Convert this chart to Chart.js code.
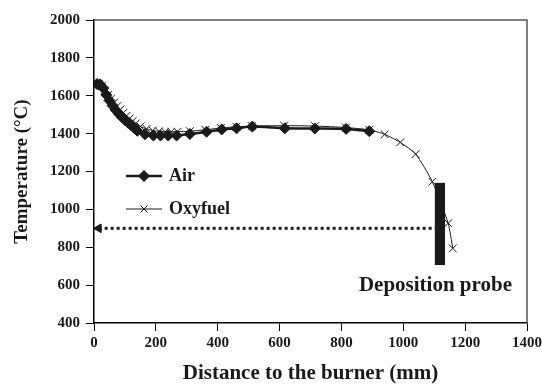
<!DOCTYPE html>
<html>
<head>
<meta charset="utf-8">
<script src="https://cdn.jsdelivr.net/npm/chart.js@4"></script>
<style>
  body { margin: 0; background: #fff; }
  #wrap { width: 542px; height: 384px; }
</style>
</head>
<body>
<div id="wrap"><canvas id="chart"></canvas></div>
<script>
// distance to burner (mm) and temperature (°C)
const airX = [10, 20, 30, 40, 50, 60, 70, 80, 90, 100, 110, 120, 130, 140, 165, 192, 215, 240, 267, 310, 364, 413, 461, 512, 617, 714, 815, 890];
const airY = [1662, 1660, 1640, 1605, 1575, 1548, 1525, 1505, 1488, 1472, 1458, 1444, 1430, 1415, 1397, 1390, 1390, 1390, 1390, 1398, 1410, 1422, 1428, 1437, 1428, 1427, 1425, 1413];

const oxyX = [15, 25, 35, 45, 55, 65, 75, 85, 95, 105, 115, 125, 135, 150, 170, 190, 210, 230, 250, 270, 310, 360, 410, 460, 510, 615, 715, 815, 890, 940, 990, 1040, 1094, 1145, 1160];
const oxyY = [1662, 1650, 1628, 1604, 1584, 1564, 1545, 1527, 1510, 1494, 1480, 1466, 1454, 1438, 1425, 1416, 1412, 1410, 1410, 1410, 1413, 1420, 1430, 1436, 1440, 1442, 1440, 1432, 1420, 1396, 1354, 1292, 1146, 927, 794];

// arrow at the probe temperature
const arrowX = [15, 1102];
const arrowY = [900, 900];

// deposition probe extent
const probeX = [1102, 1135];
const probeY = [706, 1140];

const xTicks = [0, 200, 400, 600, 800, 1000, 1200, 1400];
const yTicks = [400, 600, 800, 1000, 1200, 1400, 1600, 1800, 2000];

const serif = "'Liberation Serif', 'Times New Roman', serif";
const ink = "#1a1a1a";

function toPoints(xs, ys) {
    return xs.map((x, i) => ({ x: x, y: ys[i] }));
}

// probe bar, label, frame and legend
const extras = {
    id: "extras",
    beforeDatasetsDraw(chart) {
        const ctx = chart.ctx;
        const xs = chart.scales.x, ys = chart.scales.y;
        const x0 = xs.getPixelForValue(probeX[0]);
        const x1 = xs.getPixelForValue(probeX[1]);
        const y0 = ys.getPixelForValue(probeY[1]);
        const y1 = ys.getPixelForValue(probeY[0]);
        ctx.save();
        ctx.fillStyle = ink;
        ctx.fillRect(x0, y0, x1 - x0, y1 - y0);
        ctx.restore();
    },
    afterDraw(chart) {
        const ctx = chart.ctx;
        const a = chart.chartArea;
        const xs = chart.scales.x, ys = chart.scales.y;
        ctx.save();

        // top and right frame
        ctx.strokeStyle = "#555";
        ctx.lineWidth = 1.5;
        ctx.beginPath();
        ctx.moveTo(a.left, a.top);
        ctx.lineTo(a.right, a.top);
        ctx.lineTo(a.right, a.bottom);
        ctx.stroke();

        // probe label
        ctx.fillStyle = ink;
        ctx.font = "bold 21px " + serif;
        ctx.textAlign = "center";
        ctx.textBaseline = "middle";
        ctx.fillText("Deposition probe", xs.getPixelForValue(1104), ys.getPixelForValue(600));

        // legend
        const lx0 = a.left + 32, lx1 = a.left + 68;
        const rows = [
            { label: "Air", y: a.top + 156, width: 2.5, style: "rectRot", r: 5.5 },
            { label: "Oxyfuel", y: a.top + 189, width: 1, style: "crossRot", r: 5 }
        ];
        ctx.textAlign = "left";
        ctx.font = "bold 18px " + serif;
        for (const row of rows) {
            ctx.strokeStyle = ink;
            ctx.lineWidth = row.width;
            ctx.beginPath();
            ctx.moveTo(lx0, row.y);
            ctx.lineTo(lx1, row.y);
            ctx.stroke();
            ctx.fillStyle = ink;
            ctx.lineWidth = 1;
            Chart.helpers.drawPoint(ctx, { pointStyle: row.style, radius: row.r, borderWidth: 1, rotation: 0 }, (lx0 + lx1) / 2, row.y);
            ctx.fillText(row.label, lx1 + 7, row.y);
        }
        ctx.restore();
    }
};

new Chart(document.getElementById("chart"), {
    type: "line",
    data: {
        datasets: [
            {
                label: "Air",
                data: toPoints(airX, airY),
                borderColor: ink,
                backgroundColor: ink,
                borderWidth: 2.5,
                pointStyle: "rectRot",
                pointRadius: 5.5,
                pointBorderWidth: 1,
                tension: 0.2
            },
            {
                label: "Oxyfuel",
                data: toPoints(oxyX, oxyY),
                borderColor: ink,
                backgroundColor: ink,
                borderWidth: 1,
                pointStyle: "crossRot",
                pointRadius: 5.5,
                pointBorderWidth: 1,
                tension: 0.2
            },
            {
                label: "arrow",
                data: toPoints(arrowX, arrowY),
                borderColor: ink,
                backgroundColor: ink,
                borderWidth: 3,
                borderDash: [3, 3],
                pointStyle: "triangle",
                pointRadius: [5, 0],
                pointRotation: -90,
                pointBorderWidth: 1
            }
        ]
    },
    options: {
        responsive: true,
        maintainAspectRatio: false,
        animation: false,
        layout: { padding: { top: 20, right: 15, left: 0, bottom: 0 } },
        plugins: {
            legend: { display: false },
            tooltip: { enabled: false }
        },
        scales: {
            x: {
                type: "linear",
                min: 0,
                max: 1400,
                afterBuildTicks: (s) => { s.ticks = xTicks.map((v) => ({ value: v })); },
                afterFit: (s) => { s.height = 61; s.paddingLeft = 0; s.paddingRight = 0; },
                border: { color: "#000", width: 1.5 },
                grid: { drawOnChartArea: false, tickLength: 8, color: "#000" },
                ticks: {
                    color: ink, padding: 3,
                    font: { family: serif, size: 15, weight: "bold" },
                    callback: (v) => String(v)
                },
                title: {
                    display: true,
                    text: "Distance to the burner (mm)",
                    color: ink,
                    padding: { top: 0, bottom: 0 },
                    font: { family: serif, size: 21, weight: "bold", lineHeight: 1 }
                }
            },
            y: {
                min: 400,
                max: 2000,
                afterBuildTicks: (s) => { s.ticks = yTicks.map((v) => ({ value: v })); },
                afterFit: (s) => { s.width = 94; s.paddingTop = 0; s.paddingBottom = 0; },
                border: { color: "#000", width: 1.5 },
                grid: { drawOnChartArea: false, tickLength: 8, color: "#000" },
                ticks: {
                    color: ink, padding: 6,
                    font: { family: serif, size: 15, weight: "bold" },
                    callback: (v) => String(v)
                },
                title: {
                    display: true,
                    text: "Temperature (°C)",
                    color: ink,
                    padding: { top: 13, bottom: 0 },
                    font: { family: serif, size: 19, weight: "bold", lineHeight: 1 }
                }
            }
        }
    },
    plugins: [extras]
});
</script>
</body>
</html>
